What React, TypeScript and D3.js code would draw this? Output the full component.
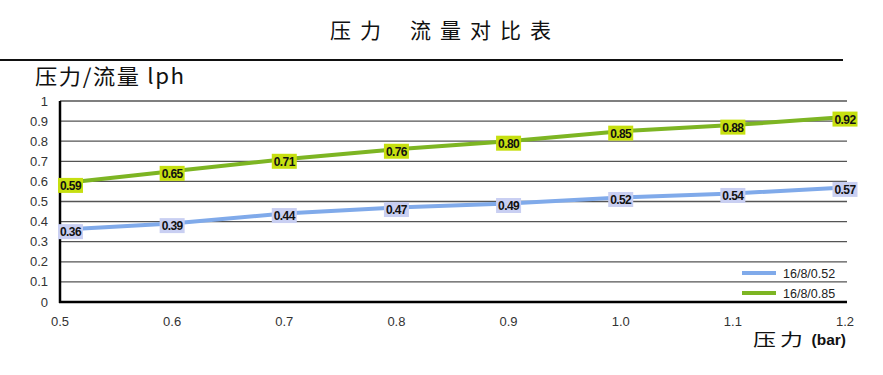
import * as d3 from "d3";
import React, { useEffect, useRef } from "react";

const pressures = [0.5, 0.6, 0.7, 0.8, 0.9, 1.0, 1.1, 1.2];
const xTickLabels = ["0.5", "0.6", "0.7", "0.8", "0.9", "1.0", "1.1", "1.2"];
const yTicks = [0, 0.1, 0.2, 0.3, 0.4, 0.5, 0.6, 0.7, 0.8, 0.9, 1];
const flowBlue = [0.36, 0.39, 0.44, 0.47, 0.49, 0.52, 0.54, 0.57];
const flowGreen = [0.59, 0.65, 0.71, 0.76, 0.8, 0.85, 0.88, 0.92];
const seriesNames = ["16/8/0.52", "16/8/0.85"];

const W = 883,
  H = 375;
const margin = { top: 101, right: 38, bottom: 73, left: 60 };

function App() {
  const ref = useRef(null);

  useEffect(() => {
    const svg = d3.select(ref.current);
    svg.selectAll("*").remove();

    const x = d3
      .scaleLinear()
      .domain([0.5, 1.2])
      .range([margin.left, W - margin.right]);
    const y = d3
      .scaleLinear()
      .domain([0, 1])
      .range([H - margin.bottom, margin.top]);

    const cjk = "'Noto Sans CJK SC', sans-serif";

    // title
    const title = svg
      .append("text")
      .attr("y", 38)
      .style("font-family", cjk)
      .style("font-size", "21px")
      .style("letter-spacing", "9px")
      .attr("fill", "#111");
    title.append("tspan").attr("x", 330).text("压力");
    title.append("tspan").attr("x", 410).text("流量对比表");

    svg
      .append("line")
      .attr("x1", 0)
      .attr("x2", 843)
      .attr("y1", 60)
      .attr("y2", 60)
      .attr("stroke", "#111")
      .attr("stroke-width", 2);

    svg
      .append("g")
      .attr("transform", "translate(35,84) scale(1.06,1)")
      .append("text")
      .style("font-family", cjk)
      .style("font-size", "21px")
      .style("letter-spacing", "1.5px")
      .attr("fill", "#111")
      .text("压力/流量 lph");

    // gridlines
    yTicks.slice(1).forEach((t) => {
      svg
        .append("line")
        .attr("x1", x(0.5))
        .attr("x2", x(1.2) + 2)
        .attr("y1", y(t))
        .attr("y2", y(t))
        .attr("stroke", "#555")
        .attr("stroke-width", 1.3);
    });

    // y tick labels
    yTicks.forEach((t) => {
      svg
        .append("text")
        .attr("x", 48)
        .attr("y", y(t) + 4.5)
        .attr("text-anchor", "end")
        .style("font-family", "'Liberation Sans', Arial, sans-serif")
        .style("font-size", "13px")
        .attr("fill", "#333")
        .text(String(t));
    });

    // axes
    svg
      .append("line")
      .attr("x1", x(0.5))
      .attr("x2", x(0.5))
      .attr("y1", y(1))
      .attr("y2", y(0) + 1)
      .attr("stroke", "#000")
      .attr("stroke-width", 2.5);
    svg
      .append("line")
      .attr("x1", x(0.5) - 1)
      .attr("x2", x(1.2) + 2)
      .attr("y1", y(0))
      .attr("y2", y(0))
      .attr("stroke", "#000")
      .attr("stroke-width", 2.5);

    // x tick labels
    pressures.forEach((p, i) => {
      svg
        .append("text")
        .attr("x", x(p))
        .attr("y", 326)
        .attr("text-anchor", "middle")
        .style("font-family", "'Liberation Sans', Arial, sans-serif")
        .style("font-size", "13px")
        .attr("fill", "#333")
        .text(xTickLabels[i]);
    });

    // x axis title
    svg
      .append("g")
      .attr("transform", "translate(753,346) scale(1.35,1)")
      .append("text")
      .style("font-family", cjk)
      .style("font-size", "17px")
      .style("letter-spacing", "3px")
      .attr("fill", "#111")
      .text("压力");
    svg
      .append("text")
      .attr("x", 846)
      .attr("y", 345)
      .attr("text-anchor", "end")
      .style("font-family", "'Liberation Sans', Arial, sans-serif")
      .style("font-weight", "bold")
      .style("font-size", "15.5px")
      .attr("fill", "#111")
      .text("(bar)");

    const series = [
      { values: flowBlue, stroke: "#80aaea", box: "#c9cff2" },
      { values: flowGreen, stroke: "#7db523", box: "#c6df10" },
    ];

    const line = d3
      .line<number>()
      .x((d, i) => x(pressures[i]))
      .y((d) => y(d));

    series.forEach((s) => {
      svg
        .append("path")
        .datum(s.values)
        .attr("d", line)
        .attr("fill", "none")
        .attr("stroke", s.stroke)
        .attr("stroke-width", 4);
    });

    series.forEach((s) => {
      s.values.forEach((v, i) => {
        const bw = 25,
          bh = 15;
        const cx = Math.max(x(pressures[i]), margin.left + bw / 2 - 2);
        const cy = y(v) + 2;
        svg
          .append("rect")
          .attr("x", cx - bw / 2)
          .attr("y", cy - bh / 2)
          .attr("width", bw)
          .attr("height", bh)
          .attr("fill", s.box);
        svg
          .append("text")
          .attr("x", cx)
          .attr("y", cy + 4.5)
          .attr("text-anchor", "middle")
          .style("font-family", "'Liberation Sans', Arial, sans-serif")
          .style("font-size", "12px")
          .style("font-weight", "bold")
          .style("letter-spacing", "-0.6px")
          .attr("fill", "#111")
          .text(v.toFixed(2));
      });
    });

    // legend
    series.forEach((s, i) => {
      const ly = 273 + i * 20;
      svg
        .append("line")
        .attr("x1", 742)
        .attr("x2", 776)
        .attr("y1", ly)
        .attr("y2", ly)
        .attr("stroke", s.stroke)
        .attr("stroke-width", 4);
      svg
        .append("text")
        .attr("x", 783)
        .attr("y", ly + 4.5)
        .style("font-family", "'Liberation Sans', Arial, sans-serif")
        .style("font-size", "12.5px")
        .attr("fill", "#222")
        .text(seriesNames[i]);
    });
  }, []);

  return (
    <div style={{ position: "absolute", left: 0, top: 0 }}>
      <svg ref={ref} width={W} height={H} style={{ display: "block", background: "#fff" }}></svg>
    </div>
  );
}

export default App;
